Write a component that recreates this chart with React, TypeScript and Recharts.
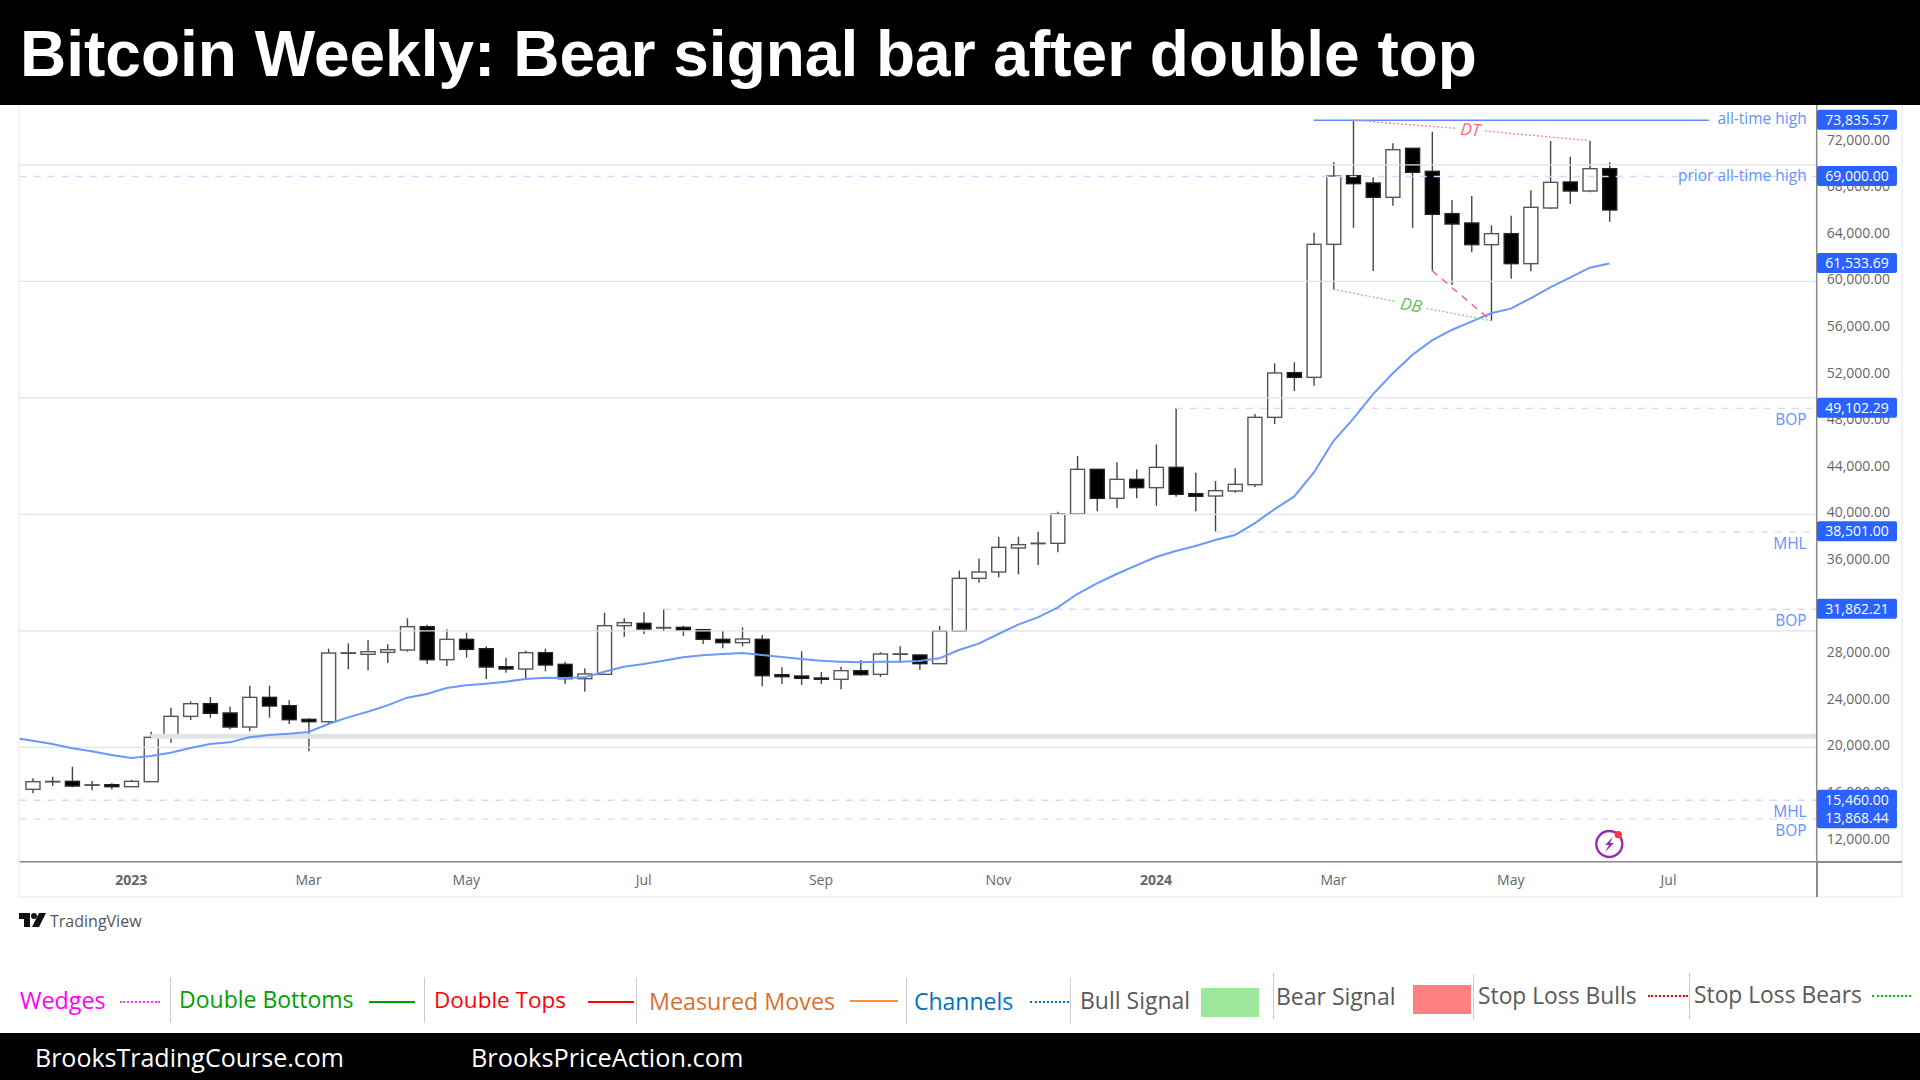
import React from 'react';
import {
  ComposedChart, Bar, Line, XAxis, YAxis, ReferenceLine, ReferenceDot
} from 'recharts';

const opens = [16400, 17040, 17087, 16760, 16801, 16629, 17058, 20863, 22666, 23753, 22952, 21750, 24296, 23581, 22408, 22208, 28090, 27987, 28159, 28359, 30362, 27529, 29275, 28474, 26929, 26728, 28130, 27129, 25899, 26271, 30448, 30649, 30260, 30306, 30106, 29276, 28990, 29276, 26243, 26129, 25957, 25843, 26587, 26272, 28000, 27931, 27187, 29991, 34511, 35055, 37117, 37500, 37517, 40035, 43869, 41380, 43010, 42295, 44040, 41780, 41580, 42009, 42553, 48332, 52166, 51765, 63183, 69077, 68447, 67217, 71423, 69448, 65815, 65014, 63154, 64098, 61524, 66301, 68533, 67760, 69677];
const highs = [17344, 17487, 18346, 17115, 16915, 17201, 21350, 23410, 23953, 24325, 23495, 25298, 25298, 24039, 22494, 28474, 28931, 29217, 28845, 31077, 30533, 30133, 29847, 28674, 27701, 28302, 28474, 27358, 26786, 31563, 31077, 31593, 31862, 30449, 30106, 30020, 30306, 29648, 26873, 28246, 26472, 26930, 27502, 28160, 28675, 27988, 30420, 35170, 36200, 38059, 38089, 38519, 40235, 45013, 43869, 44470, 43869, 46014, 49102, 43583, 42867, 43954, 48618, 52967, 53052, 64184, 70221, 73835.57, 68933, 71852, 71423, 72853, 66988, 67331, 64814, 65643, 67818, 72052, 70707, 72052, 70221];
const lows = [16057, 16686, 16572, 16314, 16400, 16600, 17058, 20406, 22351, 22551, 21550, 21378, 22551, 22008, 19662, 21922, 26700, 26614, 27243, 28216, 27157, 26986, 27701, 25870, 26414, 25841, 26528, 25441, 24783, 26271, 29503, 29734, 29991, 29562, 28875, 28503, 28675, 25242, 25442, 25356, 25442, 24984, 26157, 26043, 27273, 26644, 27187, 29991, 34140, 34597, 34855, 35657, 36745, 40035, 40264, 40550, 41380, 40750, 41523, 40264, 38501, 41866, 42352, 47760, 50592, 51050, 59321, 64613, 60894, 66502, 64613, 60923, 59692, 62496, 56631, 60236, 60865, 66216, 66645, 67646, 65128];
const closes = [17058, 17080, 16686, 16790, 16629, 17087, 20863, 22666, 23753, 22923, 21750, 24296, 23553, 22380, 22208, 28102, 28120, 28216, 28388, 30362, 27529, 29275, 28416, 26900, 26728, 28130, 27072, 25899, 26299, 30448, 30705, 30163, 30290, 30048, 29276, 28990, 29304, 26157, 26072, 25929, 25843, 26587, 26243, 28017, 28030, 27187, 29991, 34511, 35055, 37174, 37403, 37530, 40035, 43869, 41380, 43010, 42295, 44040, 41723, 41551, 42037, 42581, 48332, 52137, 51765, 63183, 69048, 68390, 67217, 71308, 69363, 65758, 64928, 63154, 64098, 61524, 66359, 68504, 67760, 69677, 66130];
const ema = [20577, 20291, 19919, 19661, 19347, 19089, 19261, 19547, 19948, 20291, 20434, 20863, 21064, 21178, 21321, 22008, 22580, 23066, 23610, 24268, 24583, 25098, 25326, 25470, 25641, 25870, 25984, 25956, 26013, 26500, 26929, 27159, 27445, 27731, 27903, 28017, 28103, 27931, 27760, 27588, 27445, 27359, 27302, 27359, 27359, 27416, 27645, 28360, 28904, 29734, 30535, 31164, 31994, 33167, 34082, 34883, 35627, 36344, 36859, 37288, 37803, 38232, 39234, 40435, 41523, 43583, 46300, 48205, 50309, 52094, 53680, 54935, 55830, 56545, 57261, 57661, 58548, 59492, 60322, 61180, 61533.69];
const emaAtLeftEdge = 20749;

const priceTicks = [12000, 16000, 20000, 24000, 28000, 32000, 36000, 40000, 44000, 48000, 52000, 56000, 60000, 64000, 68000, 72000];
const gridLevels = [20000, 30000, 40000, 50000, 60000, 70000];
const timeTicks = [5, 14, 22, 31, 40, 49, 57, 66, 75, 83];
const timeLabels = ['2023', 'Mar', 'May', 'Jul', 'Sep', 'Nov', '2024', 'Mar', 'May', 'Jul'];
const yearLabels = ['2023', '2024'];

const badgeLevels = [73835.57, 69000, 61533.69, 49102.29, 38501, 31862.21, 15460, 13868.44];
const dashedLevels = [69000, 49102.29, 38501, 31862.21, 15460, 13868.44];
const dashedStarts = [-0.66, 58, 60, 32, -0.66, -0.66];
const tagLevels = [49102.29, 38501, 31862.21, 15460, 13868.44];
const tagNames = ['BOP', 'MHL', 'BOP', 'MHL', 'BOP'];

const leftEdge = -0.662;
const rightEdge = 90.52;
const priceDomain = [10189, 75142];
const badgeLeft = 1817;

const rows: any[] = [
  { x: leftEdge, ema: emaAtLeftEdge },
  ...opens.map((open, i) => ({
    x: i,
    open,
    close: closes[i],
    high: highs[i],
    low: lows[i],
    range: [lows[i], highs[i]],
    ema: ema[i],
  })),
];

const Candle = (props: any) => {
  const { x, y, width, height, payload } = props;
  if (payload.open === undefined) return null;
  const cx = x + width / 2;
  const perUnit = height / (payload.high - payload.low);
  const top = y + (payload.high - Math.max(payload.open, payload.close)) * perUnit;
  const bottom = y + (payload.high - Math.min(payload.open, payload.close)) * perUnit;
  const bull = payload.close >= payload.open;
  return (
    <g>
      <line x1={cx} x2={cx} y1={y} y2={y + height} stroke="#444" strokeWidth={1.4} />
      <rect
        x={cx - 7}
        y={top}
        width={14}
        height={Math.max(bottom - top, 0.5)}
        fill={bull ? '#fff' : '#000'}
        stroke={bull ? '#555' : '#222'}
        strokeWidth={1.4}
      />
    </g>
  );
};

const TimeTick = (props: any) => {
  const { x, y, payload } = props;
  const label = timeLabels[timeTicks.indexOf(payload.value)];
  const year = yearLabels.includes(label);
  return (
    <text x={x} y={y} dy={15} textAnchor="middle" fontFamily="Open Sans" fontSize={14}
      fontWeight={year ? 700 : 400} fill="#666">
      {label}
    </text>
  );
};

const formatPrice = (v: number) =>
  v.toLocaleString('en-US', { minimumFractionDigits: 2, maximumFractionDigits: 2 });

// second right axis, so the price flags sit on top of the normal tick labels
const BadgeTick = (props: any) => {
  const { y, payload } = props;
  return (
    <g>
      <rect x={badgeLeft} y={y - 10.5} width={80} height={20} rx={2} fill="#2962ff" />
      <text x={badgeLeft + 40} y={y + 4.5} textAnchor="middle" fontFamily="Open Sans" fontSize={14} fill="#fff">
        {formatPrice(payload.value)}
      </text>
    </g>
  );
};

const lineTag = (text: string, dy: number) => (p: any) => {
  const vb = p.viewBox;
  return (
    <text x={vb.x + vb.width - 10} y={vb.y + dy} textAnchor="end" fontFamily="Open Sans" fontSize={15.5} fill="#6492ff">
      {text}
    </text>
  );
};

const patternName = (text: string, color: string, angle: number) => (p: any) => {
  const vb = p.viewBox;
  const cx = vb.x + vb.width / 2;
  const cy = vb.y + vb.height / 2;
  return (
    <text x={cx} y={cy + 6} textAnchor="middle" fontFamily="Open Sans" fontStyle="italic" fontSize={17} fill={color}
      transform={`rotate(${angle} ${cx} ${cy})`}>
      {text}
    </text>
  );
};

const Abs = ({ x, y, w, h, bg }: any) => (
  <div style={{ position: 'absolute', left: x, top: y, width: w, height: h, background: bg }} />
);

const Txt = ({ x, y, color, size = 23, children }: any) => (
  <div style={{
    position: 'absolute', left: x, top: y, color, fontSize: size, lineHeight: '34px', height: 34,
    fontFamily: '"Open Sans"', whiteSpace: 'nowrap',
  }}>
    {children}
  </div>
);

const Dots = ({ x, y, w, color }: any) => (
  <div style={{ position: 'absolute', left: x, top: y, width: w, height: 0, borderTop: `2px dotted ${color}` }} />
);

export default function App() {
  return (
    <div style={{ position: 'absolute', left: 0, top: 0, width: 1920, height: 1080, overflow: 'hidden', background: '#fff' }}>
      <div style={{
        position: 'absolute', left: 0, top: 0, width: 1920, height: 105, background: '#000', color: '#fff',
        fontFamily: '"Liberation Sans"', fontWeight: 700, fontSize: 64, lineHeight: '109px', paddingLeft: 20,
        boxSizing: 'border-box', whiteSpace: 'nowrap',
      }}>
        Bitcoin Weekly: Bear signal bar after double top
      </div>

      {/* frame round the chart */}
      <div style={{
        position: 'absolute', left: 18, top: 105, width: 1885, height: 793, boxSizing: 'border-box',
        border: '2px solid #f0f3fa', borderTop: 'none',
      }} />

      <div style={{ position: 'absolute', left: 0, top: 0 }}>
        <ComposedChart
          width={1920}
          height={1080}
          data={rows}
          margin={{ top: 105, right: 17.3, bottom: 183, left: 19.6 }}
        >
          <XAxis
            dataKey="x"
            type="number"
            domain={[leftEdge, rightEdge]}
            allowDataOverflow
            ticks={timeTicks}
            interval={0}
            tick={<TimeTick />}
            tickLine={false}
            height={35.3}
            axisLine={{ stroke: '#8a8a8a', strokeWidth: 1.5 }}
          />
          <YAxis
            orientation="right"
            type="number"
            domain={priceDomain}
            allowDataOverflow
            ticks={priceTicks}
            interval={0}
            width={85}
            tickFormatter={formatPrice}
            tickLine={false}
            tickMargin={4}
            tick={{ fontSize: 14, fill: '#666', fontFamily: 'Open Sans', dy: -2 }}
            axisLine={{ stroke: '#8a8a8a', strokeWidth: 1.5 }}
          />
          <YAxis
            yAxisId="flags"
            orientation="right"
            type="number"
            domain={priceDomain}
            allowDataOverflow
            ticks={badgeLevels}
            interval={0}
            width={1}
            tick={<BadgeTick />}
            tickLine={false}
            axisLine={false}
          />

          {gridLevels.map((v) => (
            <ReferenceLine key={v} y={v} stroke="#dfe2ea" strokeWidth={1.4} />
          ))}
          <ReferenceLine
            segment={[{ x: 6, y: 20950 }, { x: rightEdge, y: 20950 }]}
            stroke="#e2e3e6"
            strokeWidth={5}
          />

          {dashedLevels.map((v, i) => (
            <ReferenceLine
              key={v}
              segment={[{ x: dashedStarts[i], y: v }, { x: rightEdge, y: v }]}
              stroke="#cfdcff"
              strokeWidth={1.4}
              strokeDasharray="7 7"
            />
          ))}
          <ReferenceLine
            segment={[{ x: 65, y: 73835.57 }, { x: 85.05, y: 73835.57 }]}
            stroke="#5f8dff"
            strokeWidth={1.6}
          />

          <Line
            dataKey="ema"
            type="linear"
            dot={false}
            stroke="#6b97ff"
            strokeWidth={2}
            isAnimationActive={false}
          />
          <Bar dataKey="range" barSize={14} shape={<Candle />} isAnimationActive={false} />

          {/* double top and double bottom notes */}
          <ReferenceLine segment={[{ x: 67, y: 73835 }, { x: 72.25, y: 73139 }]} stroke="#ff8d9c" strokeWidth={1.4} strokeDasharray="2 2" />
          <ReferenceLine segment={[{ x: 73.7, y: 72910 }, { x: 79, y: 72081 }]} stroke="#ff8d9c" strokeWidth={1.4} strokeDasharray="2 2" />
          <ReferenceLine segment={[{ x: 66, y: 59321 }, { x: 69.2, y: 58262 }]} stroke="#8fd08f" strokeWidth={1.4} strokeDasharray="2 2" />
          <ReferenceLine segment={[{ x: 70.73, y: 57690 }, { x: 74, y: 56631 }]} stroke="#8fd08f" strokeWidth={1.4} strokeDasharray="2 2" />
          <ReferenceLine segment={[{ x: 71, y: 60923 }, { x: 74, y: 56631 }]} stroke="#ef5f8c" strokeWidth={1.4} strokeDasharray="7 6" />
          <ReferenceDot x={72.95} y={73030} r={0} label={patternName('DT', '#ff6b7d', 5)} />
          <ReferenceDot x={69.95} y={57980} r={0} label={patternName('DB', '#63bd63', 10)} />

          <ReferenceLine y={73835.57} stroke="none" label={lineTag('all-time high', 4)} />
          <ReferenceLine y={69000} stroke="none" label={lineTag('prior all-time high', 4)} />
          {tagLevels.map((v, i) => (
            <ReferenceLine key={v} y={v} stroke="none" label={lineTag(tagNames[i], 17)} />
          ))}
        </ComposedChart>
      </div>

      {/* pane corner lines past the plot */}
      <Abs x={1817} y={861} w={85} h={1.5} bg="#8a8a8a" />
      <Abs x={1816} y={861} w={1.5} h={36} bg="#8a8a8a" />

      {/* alert icon */}
      <svg style={{ position: 'absolute', left: 1590, top: 825 }} width={40} height={40}>
        <circle cx={19.3} cy={19} r={13} fill="none" stroke="#9c27b0" strokeWidth={2.4} />
        <path d="M23 12 L15 20 L19 20 L15 27 L24 18 L20 18 Z" fill="#9c27b0" />
        <circle cx={28.3} cy={9.7} r={3.6} fill="#f23645" />
      </svg>

      {/* TradingView mark */}
      <svg style={{ position: 'absolute', left: 19, top: 912 }} width={28} height={18}>
        <path d="M0 1 H11 V15 H5 V7 H0 Z" fill="#111" />
        <circle cx={15} cy={4} r={3} fill="#111" />
        <path d="M20 1 H27 L20 15 H13 Z" fill="#111" />
      </svg>
      <Txt x={50} y={904} color="#555" size={16}>TradingView</Txt>

      {/* legend strip */}
      <Txt x={20} y={983} color="#ff00ff" size={23.3}>Wedges</Txt>
      <Dots x={120} y={1001} w={40} color="#ff33ff" />
      <Abs x={170} y={977} w={1} h={46} bg="#ccc" />
      <Txt x={179} y={982} color="#00a000">Double Bottoms</Txt>
      <Abs x={369} y={1001} w={46} h={2} bg="#00a000" />
      <Abs x={424} y={977} w={1} h={46} bg="#ccc" />
      <Txt x={434} y={983} color="#ff0000" size={22.5}>Double Tops</Txt>
      <Abs x={588} y={1001} w={46} h={2} bg="#ff0000" />
      <Abs x={636} y={978} w={1} h={46} bg="#ccc" />
      <Txt x={649} y={984} color="#d9702f" size={23.3}>Measured Moves</Txt>
      <Abs x={850} y={1000} w={48} h={2} bg="#f5923e" />
      <Abs x={906} y={978} w={1} h={46} bg="#ccc" />
      <Txt x={914} y={984} color="#0070c0">Channels</Txt>
      <Dots x={1030} y={1001} w={39} color="#0070c0" />
      <Abs x={1070} y={978} w={1} h={46} bg="#ccc" />
      <Txt x={1080} y={983} color="#595959">Bull Signal</Txt>
      <Abs x={1201} y={988} w={58} h={29} bg="#9ce79c" />
      <Abs x={1273} y={973} w={1} h={46} bg="#ccc" />
      <Txt x={1276} y={979} color="#595959">Bear Signal</Txt>
      <Abs x={1413} y={985} w={58} h={29} bg="#ff8080" />
      <Abs x={1473} y={974} w={1} h={46} bg="#ccc" />
      <Txt x={1478} y={979} color="#595959" size={22.8}>Stop Loss Bulls</Txt>
      <Dots x={1648} y={995} w={40} color="#ff0000" />
      <Abs x={1689} y={973} w={1} h={46} bg="#ccc" />
      <Txt x={1694} y={978} color="#595959" size={22.8}>Stop Loss Bears</Txt>
      <Dots x={1872} y={995} w={39} color="#00c000" />

      <div style={{ position: 'absolute', left: 0, top: 1033, width: 1920, height: 47, background: '#000' }} />
      <Txt x={35} y={1040} color="#fff" size={25}>BrooksTradingCourse.com</Txt>
      <Txt x={471} y={1040} color="#fff" size={25.3}>BrooksPriceAction.com</Txt>
    </div>
  );
}
